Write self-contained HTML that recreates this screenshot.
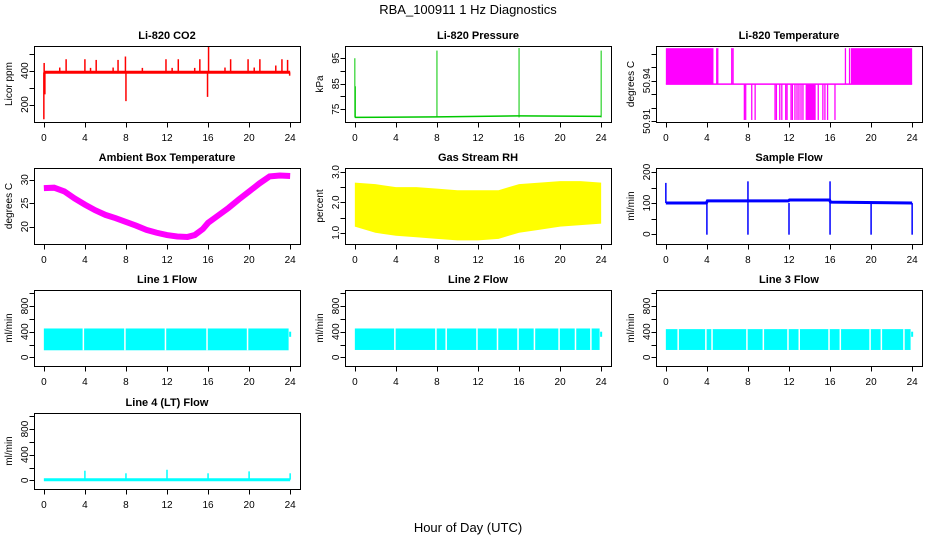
<!DOCTYPE html>
<html><head><meta charset="utf-8"><style>
html,body{margin:0;padding:0;background:#fff}
svg{display:block;font-family:"Liberation Sans",sans-serif}
</style></head><body>
<svg id="c" width="936" height="540" viewBox="0 0 936 540">
<text x="468" y="14" text-anchor="middle" font-size="13">RBA_100911  1 Hz Diagnostics</text>
<text x="468" y="532" text-anchor="middle" font-size="13">Hour of Day (UTC)</text>
</svg>
<script>
// ---- data ----
const xTicks=[0,4,8,12,16,20,24];
// CO2
const co2Base=390;
const co2SpikeHours=[0,0.03,0.1,1.55,2.17,4.0,4.55,5.1,6.75,7.23,7.95,8.0,9.6,11.9,12.5,13.1,14.7,15.2,15.95,16.05,17.65,18.2,19.9,20.5,21.05,22.6,23.2,23.75,23.95];
const co2SpikeVals=[113,445,260,418,467,467,416,463,418,463,483,220,416,467,416,467,416,467,245,543,418,467,467,418,467,430,467,463,370];
// Pressure
const presBaseHours=[0,8,16,24];
const presBaseVals=[71.8,72.0,72.4,72.2];
const presSpikeHours=[0,0.05,8,16,24];
const presSpikeVals=[95,84,98,99,98];
// Li-820 temperature
const tLevels=[50.911,50.9375,50.964];
const tUpperFills=[[0,4.64],[18.03,24]];
const tUpperLines=[4.96,5.06,6.42,6.55,17.5,17.9];
const tLowerFills=[[13.62,14.6]];
const tLowerLines=[7.65,7.78,8.37,8.7,10.64,10.77,11.1,11.3,11.68,11.81,12.2,12.33,12.58,12.78,12.97,13.17,13.36,14.85,15.3,15.5,15.76,16.48];
// Ambient
const ambHours=[0,1,2,3,4,5,6,7,8,9,10,11,12,13,14,14.7,15.5,16,17,18,19,20,21,22,23,24];
const ambVals=[28.2,28.3,27.5,26,24.7,23.5,22.5,21.8,21,20.2,19.3,18.7,18.2,17.9,17.8,18.2,19.5,20.8,22.4,24,25.8,27.5,29.2,30.7,30.9,30.8];
// RH
const rhHours=[0,2,4,6,8,10,12,14,15,16,18,20,22,24];
const rhLo=[1.2,1.0,0.9,0.85,0.8,0.75,0.75,0.8,0.9,1.0,1.1,1.2,1.25,1.3];
const rhHi=[2.65,2.6,2.5,2.5,2.45,2.4,2.4,2.4,2.5,2.6,2.65,2.7,2.7,2.65];
// Sample flow
const sfHours=[0,3.95,4.05,11.95,12.05,15.95,16.05,24];
const sfVals=[100,100,107,107,110,110,103,100];
const sfDropHours=[4,8,12,16,20,24];
const sfUpHours=[0,8,16];
const sfUpVals=[165,170,170];
// Line flows
const l1Lo=110,l1Hi=450,l1Gaps=[3.85,7.9,11.85,15.9,19.85];
const l2Lo=115,l2Hi=450,l2Gaps=[3.9,7.9,8.9,11.9,13.9,15.9,17.5,19.9,21.5,23.0];
const l3Lo=115,l3Hi=440,l3Gaps=[1.2,3.9,4.5,7.9,9.5,11.9,13.0,15.9,17.0,19.9,21.0,23.2];
const l4Base=10;
const l4SpikeHours=[4,8,12,16,20,24];
const l4SpikeVals=[150,110,165,110,140,110];

// ---- layout ----
const svg=document.getElementById('c');
const NS='http://www.w3.org/2000/svg';
const W=266,H=76,colsX=[34,345,656],rowsY=[46,168,290,413];
function mk(tag,attrs,parent){const e=document.createElementNS(NS,tag);for(const k in attrs)e.setAttribute(k,attrs[k]);(parent||svg).appendChild(e);return e;}
let clipN=0;
function panel(col,row,title,ylab,ymin,ymax,yt,ylabels,name){
  const p={x:colsX[col],y:rowsY[row],ymin,ymax};
  p.sx=h=>p.x+W*(h+0.96)/25.92;
  p.sy=v=>p.y+H*(ymax-v)/(ymax-ymin);
  const g=mk('g',{});
  
  
  const t=mk('text',{x:p.x+W/2,y:p.y-7,'text-anchor':'middle','font-size':11,'font-weight':'bold'},g);
  t.textContent=title;
  
  
  const cid='clip'+(clipN++);
  const cp=mk('clipPath',{id:cid},g);
  mk('rect',{x:p.x,y:p.y,width:W,height:H},cp);
  p.plot=mk('g',{'clip-path':'url(#'+cid+')'},g);
  
  
  const box=mk('rect',{x:p.x+0.5,y:p.y+0.5,width:W,height:H,fill:'none',stroke:'#000','stroke-width':1},g);
  
  
  const by=p.y+H+0.5;
  const xa=mk('g',{},g);
  
  
  mk('line',{x1:p.sx(0),x2:p.sx(24),y1:by,y2:by,stroke:'#000'},xa);
  xTicks.forEach(h=>{
    mk('line',{x1:Math.round(p.sx(h))+0.5,x2:Math.round(p.sx(h))+0.5,y1:by,y2:by+5,stroke:'#000'},xa);
    const l=mk('text',{x:p.sx(h),y:p.y+H+19,'text-anchor':'middle','font-size':10},xa);
    l.textContent=h;
    
    
  });
  const ya=mk('g',{},g);
  
  
  const bx=p.x+0.5;
  mk('line',{x1:bx,x2:bx,y1:p.sy(yt[0]),y2:p.sy(yt[yt.length-1]),stroke:'#000'},ya);
  yt.forEach((v,i)=>{
    const yy=Math.round(p.sy(v))+0.5;
    mk('line',{x1:bx-5,x2:bx,y1:yy,y2:yy,stroke:'#000'},ya);
    if(ylabels[i]){
      const l=mk('text',{x:0,y:0,'text-anchor':'middle','font-size':10,transform:`translate(${p.x-6},${p.sy(v)}) rotate(-90)`},ya);
      l.textContent=ylabels[i];
      
      
    }
  });
  const yl=mk('text',{x:0,y:0,'text-anchor':'middle','font-size':10,transform:`translate(${p.x-22},${p.y+H/2}) rotate(-90)`},g);
  yl.textContent=ylab;
  
  
  return p;
}
function vline(p,h,v1,v2,color,w){
  const e=mk('line',{x1:p.sx(h),x2:p.sx(h),y1:p.sy(v1),y2:p.sy(v2),stroke:color,'stroke-width':w||1.3},p.plot);
  
  
}
function poly(p,hs,vs,color,w){
  const e=mk('polyline',{points:hs.map((h,i)=>p.sx(h)+','+p.sy(vs[i])).join(' '),fill:'none',stroke:color,'stroke-width':w||1.3},p.plot);
  
  
}
function band(p,hs,lo,hi,color){
  const pts=hs.map((h,i)=>p.sx(h)+','+p.sy(hi[i])).concat(hs.slice().reverse().map((h,i)=>p.sx(h)+','+p.sy(lo[hs.length-1-i])));
  const e=mk('polygon',{points:pts.join(' '),fill:color},p.plot);
  
  
}
function rectH(p,h1,h2,v1,v2,color,name){
  const e=mk('rect',{x:p.sx(h1),y:p.sy(v2),width:p.sx(h2)-p.sx(h1),height:p.sy(v1)-p.sy(v2),fill:color},p.plot);
  
  
}

// CO2
let p=panel(0,0,'Li-820 CO2','Licor ppm',97,545,[200,300,400,500],['200','','400',''],'co2');
poly(p,[0,24],[co2Base,co2Base],'#f00',3);
co2SpikeHours.forEach((h,i)=>vline(p,h,co2Base,co2SpikeVals[i],'#f00',1.5));
// Pressure
p=panel(1,0,'Li-820 Pressure','kPa',70,99.8,[75,80,85,90,95],['75','','85','','95'],'pressure');
poly(p,presBaseHours,presBaseVals,'#00c800',1.5);
presSpikeHours.forEach((h,i)=>vline(p,h,presBaseVals[0],presSpikeVals[i],'#00c800',1));
// Li temp
p=panel(2,0,'Li-820 Temperature','degrees C',50.9095,50.9656,[50.91,50.92,50.93,50.94,50.95,50.96],['50.91','','','50.94','',''],'li-temp');
poly(p,[0,24],[tLevels[1],tLevels[1]],'#f0f',1.5);
tUpperFills.forEach(f=>rectH(p,f[0],f[1],tLevels[1],tLevels[2],'#f0f','upper-fill'));
tUpperLines.forEach(h=>vline(p,h,tLevels[1],tLevels[2],'#f0f',1.3));
tLowerFills.forEach(f=>rectH(p,f[0],f[1],tLevels[0],tLevels[1],'#f0f','lower-fill'));
tLowerLines.forEach(h=>vline(p,h,tLevels[0],tLevels[1],'#f0f',1.3));
// Ambient
p=panel(0,1,'Ambient Box Temperature','degrees C',16.3,32.5,[20,25,30],['20','25','30'],'ambient-temp');
poly(p,ambHours,ambVals,'#f0f',6);
// RH
p=panel(1,1,'Gas Stream RH','percent',0.63,3.13,[1.0,1.5,2.0,2.5,3.0],['1.0','','2.0','','3.0'],'rh');
band(p,rhHours,rhLo,rhHi,'#ff0');
// Sample flow
p=panel(2,1,'Sample Flow','ml/min',-32,213,[0,50,100,150,200],['0','','100','','200'],'sample-flow');
poly(p,sfHours,sfVals,'#00f',3);
sfDropHours.forEach(h=>vline(p,h,100,-2,'#00f',1.5));
sfUpHours.forEach((h,i)=>vline(p,h,100,sfUpVals[i],'#00f',1.5));
// Line flows
function linePanel(col,row,title,lo,hi,gaps,name){
  const q=panel(col,row,title,'ml/min',-135,1050,[0,200,400,600,800,1000],['0','','400','','800',''],name);
  rectH(q,0,23.85,lo,hi,'#0ff','flow-band');
  gaps.forEach(h=>vline(q,h,lo,hi,'#fff',1.5));
  vline(q,24,320,400,'#0ff',2);
  return q;
}
linePanel(0,2,'Line 1 Flow',l1Lo,l1Hi,l1Gaps,'line1-flow');
linePanel(1,2,'Line 2 Flow',l2Lo,l2Hi,l2Gaps,'line2-flow');
linePanel(2,2,'Line 3 Flow',l3Lo,l3Hi,l3Gaps,'line3-flow');
p=panel(0,3,'Line 4 (LT) Flow','ml/min',-135,1050,[0,200,400,600,800,1000],['0','','400','','800',''],'line4-flow');
poly(p,[0,24],[l4Base,l4Base],'#0ff',3);
l4SpikeHours.forEach((h,i)=>vline(p,h,l4Base,l4SpikeVals[i],'#0ff',1.5));
</script>
</body></html>
